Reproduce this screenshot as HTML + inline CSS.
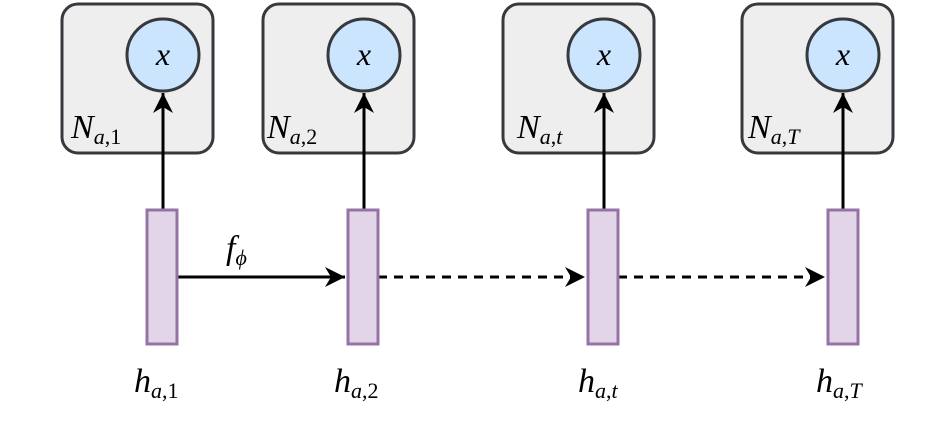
<!DOCTYPE html>
<html><head><style>body{margin:0;background:#fff}</style></head><body>
<svg width="950" height="421" xmlns="http://www.w3.org/2000/svg" font-family="Liberation Serif, serif" font-style="italic">
<defs><marker id="a" markerWidth="10" markerHeight="10" refX="9" refY="5" orient="auto" markerUnits="userSpaceOnUse" viewBox="0 0 10 10"><path d="M0,0 L10,5 L0,10 L3,5 Z" fill="#000" transform="scale(1)"/></marker>
<marker id="b" markerWidth="22" markerHeight="20" refX="20" refY="10" orient="auto" markerUnits="userSpaceOnUse"><path d="M0,0 L20,10 L0,20 L6,10 Z" fill="#000"/></marker></defs>
<g stroke="#36393d" stroke-width="3" fill="#eeeeee">
<rect x="62" y="4" width="151" height="149" rx="16"/>
<rect x="263" y="4" width="151" height="149" rx="16"/>
<rect x="503" y="4" width="151" height="149" rx="16"/>
<rect x="742" y="4" width="151" height="149" rx="16"/>
</g>
<g stroke="#36393d" stroke-width="3" fill="#cce5ff">
<circle cx="163" cy="55" r="36"/><circle cx="364" cy="55" r="36"/><circle cx="604" cy="55" r="36"/><circle cx="843" cy="55" r="36"/>
</g>
<g font-size="32" text-anchor="middle"><text x="163" y="65">x</text><text x="364" y="65">x</text><text x="604" y="65">x</text><text x="843" y="65">x</text></g>
<g stroke="#000" stroke-width="3" fill="none">
<line x1="163" y1="209" x2="163" y2="93" marker-end="url(#b)"/>
<line x1="364" y1="209" x2="364" y2="93" marker-end="url(#b)"/>
<line x1="604" y1="209" x2="604" y2="93" marker-end="url(#b)"/>
<line x1="843" y1="209" x2="843" y2="93" marker-end="url(#b)"/>
<line x1="178" y1="277" x2="345" y2="277" marker-end="url(#b)"/>
<line x1="378" y1="277" x2="585" y2="277" stroke-dasharray="9,7" marker-end="url(#b)"/>
<line x1="618" y1="277" x2="825" y2="277" stroke-dasharray="9,7" marker-end="url(#b)"/>
</g>
<g stroke="#9673a6" stroke-width="3" fill="#e1d5e7">
<rect x="147" y="210" width="30" height="134"/><rect x="348" y="210" width="30" height="134"/>
<rect x="588" y="210" width="30" height="134"/><rect x="828" y="210" width="30" height="134"/>
</g>
<g font-size="34">
<text x="71" y="138">N<tspan font-size="22" dy="6">a</tspan><tspan font-size="22" font-style="normal">,1</tspan></text>
<text x="267" y="138">N<tspan font-size="22" dy="6">a</tspan><tspan font-size="22" font-style="normal">,2</tspan></text>
<text x="517" y="138">N<tspan font-size="22" dy="6">a</tspan><tspan font-size="22" font-style="normal">,</tspan><tspan font-size="22">t</tspan></text>
<text x="748" y="138">N<tspan font-size="22" dy="6">a</tspan><tspan font-size="22" font-style="normal">,</tspan><tspan font-size="22">T</tspan></text>
<text x="134" y="392">h<tspan font-size="22" dy="6">a</tspan><tspan font-size="22" font-style="normal">,1</tspan></text>
<text x="334" y="392">h<tspan font-size="22" dy="6">a</tspan><tspan font-size="22" font-style="normal">,2</tspan></text>
<text x="578" y="392">h<tspan font-size="22" dy="6">a</tspan><tspan font-size="22" font-style="normal">,</tspan><tspan font-size="22">t</tspan></text>
<text x="816" y="392">h<tspan font-size="22" dy="6">a</tspan><tspan font-size="22" font-style="normal">,</tspan><tspan font-size="22">T</tspan></text>
<text x="226" y="259">f<tspan font-size="22" dy="6">ϕ</tspan></text>
</g>
</svg>
</body></html>
